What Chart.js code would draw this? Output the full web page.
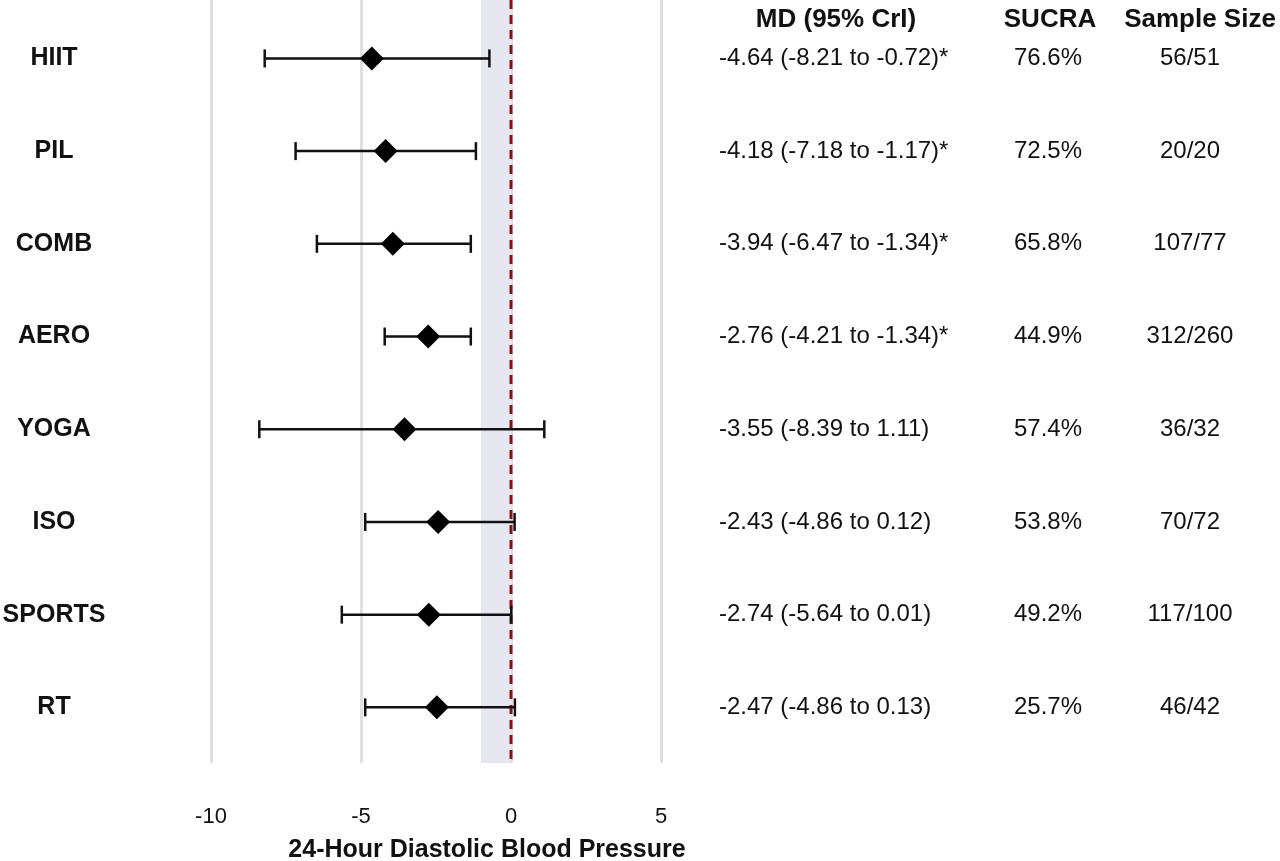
<!DOCTYPE html>
<html>
<head>
<meta charset="utf-8">
<script src="https://cdn.jsdelivr.net/npm/chart.js@4"></script>
<style>
  body { margin: 0; background: #fff; }
  #wrap { width: 1280px; height: 861px; }
</style>
</head>
<body>
<div id="wrap"><canvas id="forestChart"></canvas></div>
<script>
const labels = ["HIIT", "PIL", "COMB", "AERO", "YOGA", "ISO", "SPORTS", "RT"];
const md = [-4.64, -4.18, -3.94, -2.76, -3.55, -2.43, -2.74, -2.47];
const lower = [-8.21, -7.18, -6.47, -4.21, -8.39, -4.86, -5.64, -4.86];
const upper = [-0.72, -1.17, -1.34, -1.34, 1.11, 0.12, 0.01, 0.13];
const stars = ["*", "*", "*", "*", "", "", "", ""];
const sucra = ["76.6%", "72.5%", "65.8%", "44.9%", "57.4%", "53.8%", "49.2%", "25.7%"];
const sampleSize = ["56/51", "20/20", "107/77", "312/260", "36/32", "70/72", "117/100", "46/42"];
const xTicks = [-10, -5, 0, 5];
const band = [-1, 0];

const FONT = "'Liberation Sans', Arial, sans-serif";

const fmt = (v) => v.toFixed(2);
const mdText = md.map((v, i) => `${fmt(v)} (${fmt(lower[i])} to ${fmt(upper[i])})${stars[i]}`);

// whisker segments, broken by null points
const whiskers = [];
labels.forEach((_, i) => {
  whiskers.push({ x: lower[i], y: i });
  whiskers.push({ x: upper[i], y: i });
  whiskers.push({ x: upper[i], y: null });
});

const forestPlugin = {
  id: "forest",
  beforeDatasetsDraw(chart) {
    const { ctx, chartArea, scales } = chart;
    const x0 = scales.x.getPixelForValue(band[0]);
    const x1 = scales.x.getPixelForValue(band[1]);
    ctx.save();
    ctx.fillStyle = "#e7e7f2";
    ctx.fillRect(x0, chartArea.top, x1 - x0, chartArea.bottom - chartArea.top);
    ctx.restore();
  },
  afterDraw(chart) {
    const { ctx, scales } = chart;
    ctx.save();
    ctx.fillStyle = "#111";
    ctx.textBaseline = "middle";

    // row labels
    ctx.font = `bold 25px ${FONT}`;
    ctx.textAlign = "center";
    labels.forEach((l, i) => ctx.fillText(l, 54, scales.y.getPixelForValue(i)));

    // headers
    ctx.font = `bold 26px ${FONT}`;
    ctx.fillText("MD (95% CrI)", 836, 20);
    ctx.fillText("SUCRA", 1050, 20);
    ctx.fillText("Sample Size", 1200, 20);

    // table values
    ctx.font = `24px ${FONT}`;
    labels.forEach((_, i) => {
      const y = scales.y.getPixelForValue(i);
      ctx.textAlign = "left";
      ctx.fillText(mdText[i], 719, y);
      ctx.textAlign = "center";
      ctx.fillText(sucra[i], 1048, y);
      ctx.fillText(sampleSize[i], 1190, y);
    });

    // axis title
    ctx.font = `bold 25px ${FONT}`;
    ctx.textAlign = "center";
    ctx.fillText("24-Hour Diastolic Blood Pressure", 487, 850);
    ctx.restore();
  },
};

new Chart(document.getElementById("forestChart"), {
  type: "scatter",
  data: {
    datasets: [
      {
        type: "line",
        data: [{ x: 0, y: -0.63 }, { x: 0, y: 7.6 }],
        borderColor: "#8b1111",
        borderWidth: 3,
        borderDash: [9, 6],
        pointRadius: 0,
        order: 3,
      },
      {
        type: "line",
        data: whiskers,
        borderColor: "#111",
        borderWidth: 2.5,
        spanGaps: false,
        pointStyle: "line",
        rotation: 90,
        pointRadius: 9,
        pointBorderWidth: 2.5,
        pointBorderColor: "#111",
        order: 2,
      },
      {
        data: md.map((v, i) => ({ x: v, y: i })),
        pointStyle: "rectRot",
        pointRadius: 12,
        backgroundColor: "#000",
        borderColor: "#000",
        borderWidth: 0,
        order: 1,
      },
    ],
  },
  options: {
    responsive: true,
    maintainAspectRatio: false,
    animation: false,
    layout: {
      autoPadding: false,
      padding: { left: 211, right: 619, top: 0, bottom: 31 },
    },
    plugins: {
      legend: { display: false },
      tooltip: { enabled: false },
    },
    scales: {
      x: {
        min: -10,
        max: 5,
        afterBuildTicks: (axis) => {
          axis.ticks = xTicks.map((v) => ({ value: v }));
        },
        afterFit: (axis) => {
          axis.height = 67;
        },
        grid: {
          color: "#e0e0e0",
          lineWidth: 3,
          drawTicks: false,
        },
        border: { display: false },
        ticks: {
          padding: 41,
          color: "#111",
          font: { family: FONT, size: 22 },
        },
      },
      y: {
        display: false,
        reverse: true,
        min: -0.63,
        max: 7.6,
      },
    },
  },
  plugins: [forestPlugin],
});
</script>
</body>
</html>
